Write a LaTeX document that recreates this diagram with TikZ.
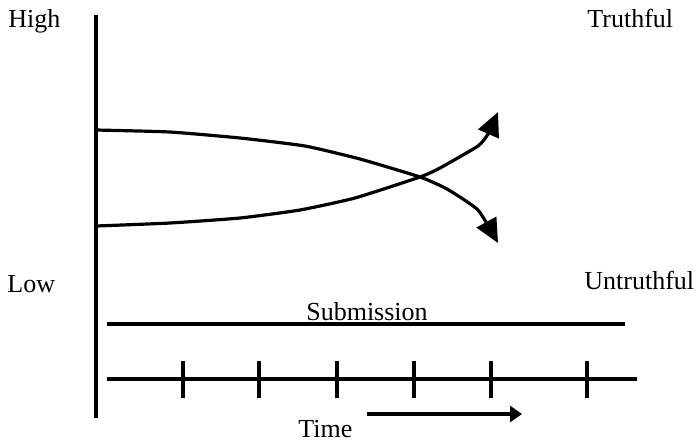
\documentclass[tikz,border=0pt]{standalone}
\usepackage{fontspec}
\setmainfont{Liberation Serif}
\usetikzlibrary{arrows.meta}

\tikzset{
	line/.style={line width=1.6pt},
	label/.style={inner sep=0pt, anchor=base west, font=\fontsize{13}{15}\selectfont},
	trend/.style={line, line join=round, -{Triangle[length=12pt, width=11pt]}},
}

\begin{document}
\begin{tikzpicture}[x=0.5pt, y=-0.5pt]
	\useasboundingbox (0,0) rectangle (696,441);
	% axis and labels
	\coordinate (top) at (96,15);
	\coordinate (bot) at (96,418);
	\draw[line] (top) -- (bot);
	\node[label] (high) at (8,27) {High};
	\node[label] (low) at (7,292) {Low};
	\node[label] (truth) at (587,27) {Truthful};
	\node[label] (untruth) at (584,289) {Untruthful};
	% the two trends
	\draw[trend] plot[smooth, tension=0.3] coordinates {(96,130) (170,132) (240,138) (305,146) (360,159) (420,177) (447,189) (478,210) (498,243)};
	\draw[trend] plot[smooth, tension=0.3] coordinates {(96,226) (170,223) (240,218) (300,210) (355,198) (420,177) (440,168) (478,146) (488,134) (498,112)};
	% submission
	\coordinate (s1) at (107,324);
	\coordinate (s2) at (625,324);
	\draw[line] (s1) -- (s2);
	\node[label, anchor=base] (sub) at (367,320) {Submission};
	% time line
	\coordinate (t1) at (107,379);
	\coordinate (t2) at (637,379);
	\draw[line] (t1) -- (t2);
	\foreach \x in {183,259,337,414,491,587}
		\draw[line] (\x,361) -- (\x,398);
	\coordinate (a1) at (367,414);
	\coordinate (a2) at (522,414);
	\draw[line, -{Triangle[length=6pt, width=8pt]}] (a1) -- (a2);
	\node[label] (time) at (298,437) {Time};
\end{tikzpicture}
\end{document}
